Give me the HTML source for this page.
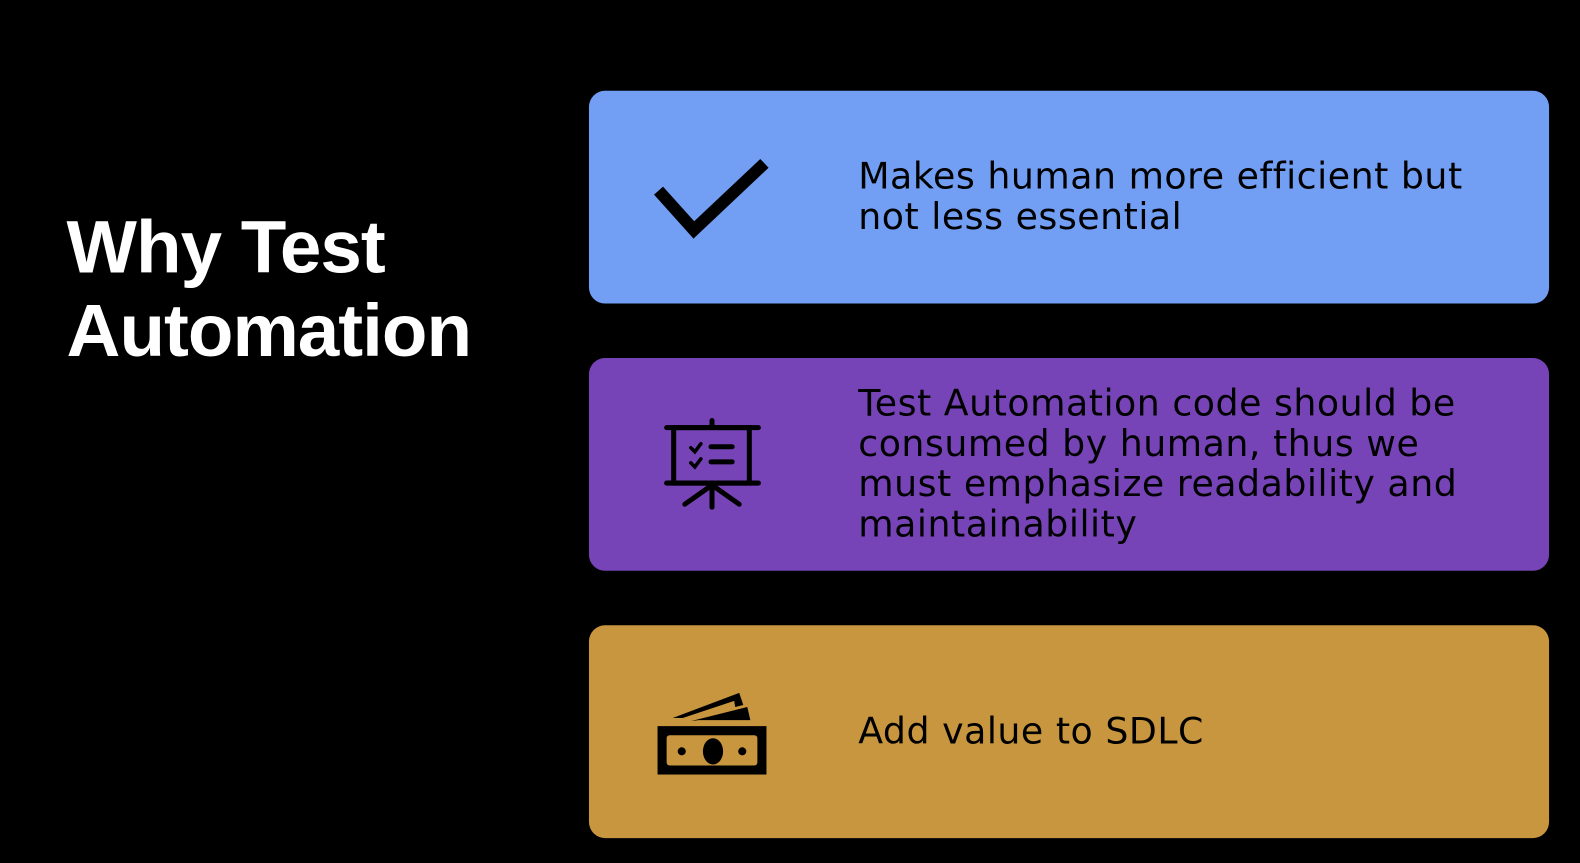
<!DOCTYPE html>
<html><head><style>
body{margin:0;width:1580px;height:856px;background:#000;position:relative;overflow:hidden;font-family:"DejaVu Sans","Liberation Sans",sans-serif}
#w{position:absolute;left:0;top:0;width:1580px;height:856px;transform:scale(1.0085);transform-origin:0 0}
.title{position:absolute;left:66px;top:203px;color:#fff;font-family:"Liberation Sans",sans-serif;font-weight:bold;font-size:74px;line-height:83px;letter-spacing:-1px}
.box{position:absolute;left:584px;width:952px;height:211px;border-radius:16px}
.t{position:absolute;left:851px;color:#000;font-size:36px;line-height:40px;white-space:nowrap;letter-spacing:0.5px}
svg{position:absolute;left:0;top:0}
</style></head><body><div id="w">
<div class="title">Why Test<br>Automation</div>
<div class="box" style="top:90px;background:#729FF3"></div>
<div class="box" style="top:355px;background:#7744B8"></div>
<div class="box" style="top:620px;background:#C8963E"></div>
<div class="t" style="top:156px">Makes human more efficient but<br>not less essential</div>
<div class="t" style="top:381px">Test Automation code should be<br>consumed by human, thus we<br>must emphasize readability and<br>maintainability</div>
<div class="t" style="top:706px">Add value to SDLC</div>
<svg width="1580" height="856">
<polyline points="653,189 688,228 758,162" fill="none" stroke="#000" stroke-width="12"/>
<g transform="translate(-5,-2)">
<g stroke="#000" stroke-width="5" fill="none" stroke-linecap="round">
<line x1="666" y1="426" x2="757" y2="426"/>
<line x1="666" y1="481" x2="757" y2="481"/>
<line x1="711" y1="419" x2="711" y2="426"/>
<rect x="673" y="426" width="75" height="55"/>
<line x1="711" y1="481" x2="711" y2="505"/>
<line x1="711" y1="483" x2="684" y2="502"/>
<line x1="711" y1="483" x2="738" y2="502"/>
<line x1="710" y1="445" x2="731" y2="445"/>
<line x1="710" y1="460" x2="731" y2="460"/>
<polyline points="690,446 694,450 700,442" stroke-width="3.5"/>
<polyline points="690,461 694,465 700,457" stroke-width="3.5"/>
</g>
</g>
<g transform="translate(-5,-2)">
<rect x="657" y="722" width="108" height="48" fill="#000"/>
<rect x="666" y="731" width="90" height="30" rx="3" fill="#C8963E"/>
<circle cx="681" cy="747" r="4" fill="#000"/>
<circle cx="741" cy="747" r="4" fill="#000"/>
<ellipse cx="712" cy="747" rx="10" ry="13" fill="#000"/>
<polygon points="672,714 738,689 742,701 734,703 733,697 682,714" fill="#000"/>
<polygon points="690,717 746,703 749,716 698,716" fill="#000"/>
</g>
</svg>
</div></body></html>
